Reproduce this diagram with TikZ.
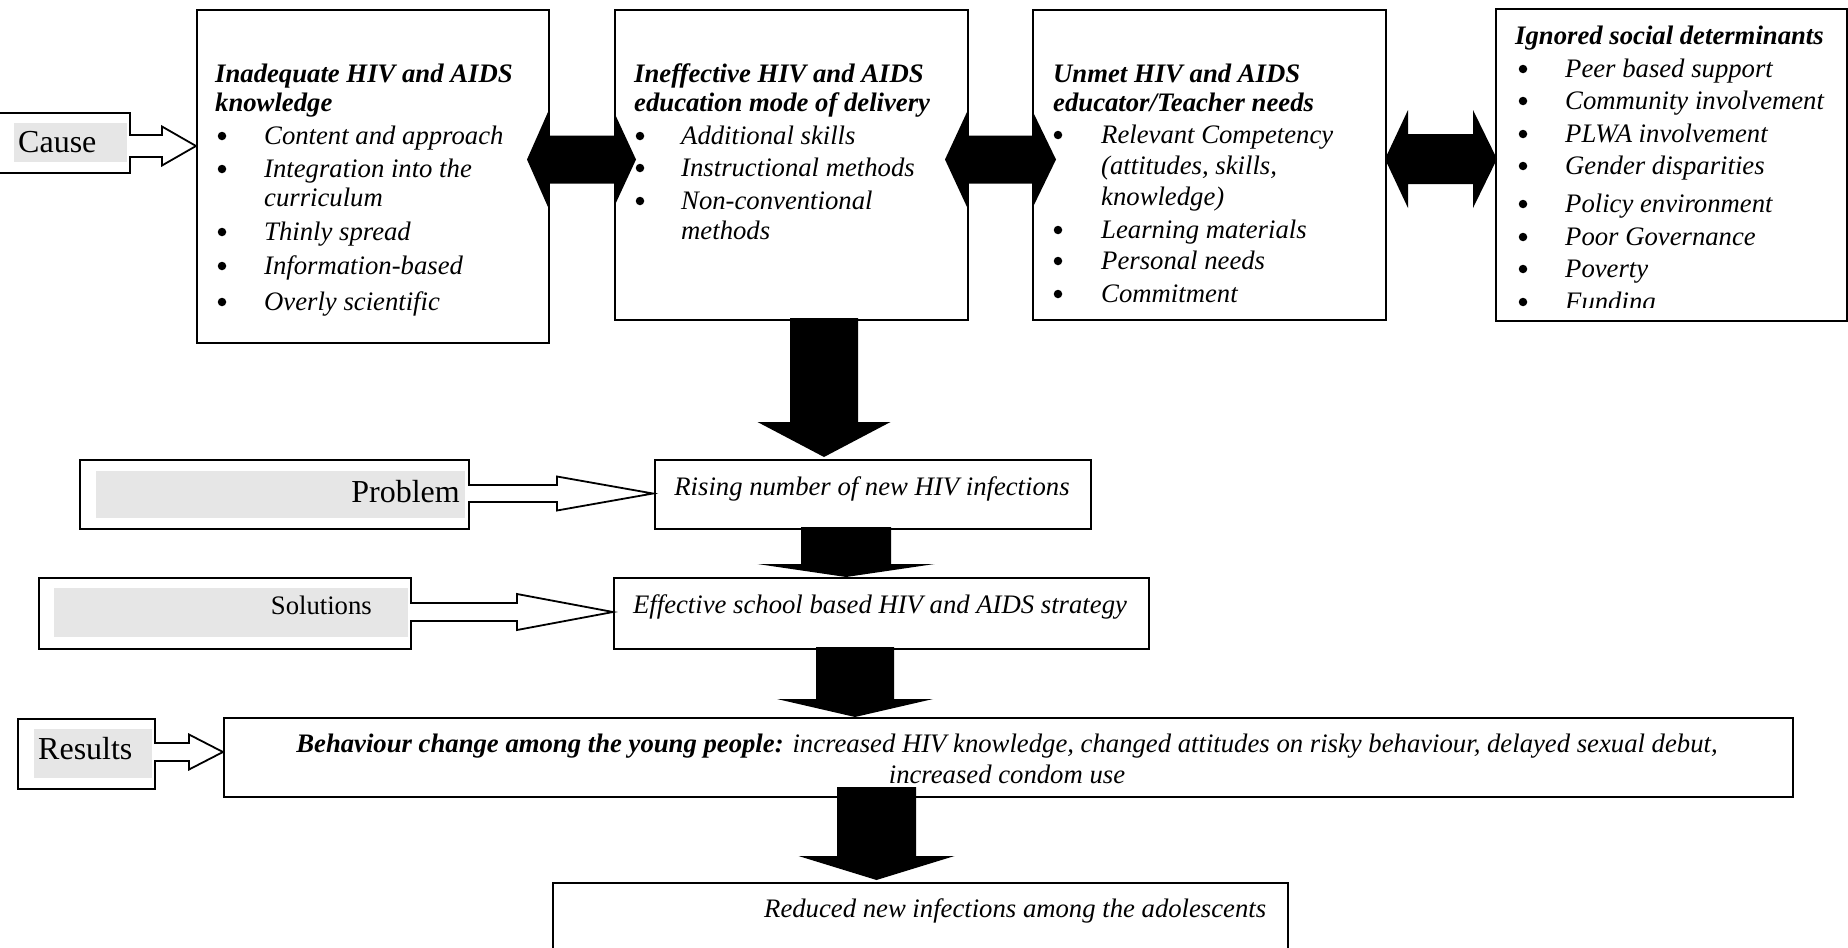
\documentclass[tikz,border=0pt]{standalone}
\usepackage{fontspec}
\setmainfont{Liberation Serif}
\newcommand\bodyfs{\fontsize{26.7}{30}\selectfont}
\newcommand\labfs{\fontsize{32}{36}\selectfont}
\definecolor{labgray}{RGB}{230,230,230}
% black block arrow pointing down: cx, ytop, shaft half, yhead, head half, ytip
\newcommand\blkdown[6]{\fill[black] ({#1-#3},#2) -- ({#1+#3},#2) -- ({#1+#3},#4) -- ({#1+#5},#4) -- (#1,#6) -- ({#1-#5},#4) -- ({#1-#3},#4) -- cycle;}
% black double block arrow: left tip, left base, right base, right tip, cy, shaft half, head half
\newcommand\blkdouble[7]{\fill[black] (#1,#5) -- (#2,{#5-#7}) -- (#2,{#5-#6}) -- (#3,{#5-#6}) -- (#3,{#5-#7}) -- (#4,#5) -- (#3,{#5+#7}) -- (#3,{#5+#6}) -- (#2,{#5+#6}) -- (#2,{#5+#7}) -- cycle;}
% hollow block arrow to the right: x0, xhead, xtip, cy, shaft half, head half
\newcommand\holright[6]{\filldraw[hol] (#1,{#4-#5}) -- (#2,{#4-#5}) -- (#2,{#4-#6}) -- (#3,#4) -- (#2,{#4+#6}) -- (#2,{#4+#5}) -- (#1,{#4+#5});}
% bullet dot: name, x, baseline
\newcommand\bu[3]{\node[bul] (#1) at (#2,{#3-8}) {};}
\tikzset{
  box/.style={draw, line width=1.8pt, fill=white, inner sep=0pt, anchor=north west},
  hol/.style={draw=black, fill=white, line width=1.8pt, line join=miter},
  it/.style={inner sep=0pt, anchor=base west, font=\bodyfs\itshape},
  bi/.style={inner sep=0pt, anchor=base west, font=\bodyfs\bfseries\itshape},
  bul/.style={circle, fill=black, inner sep=0pt, minimum size=8.5pt},
  ctr/.style={inner sep=0pt, anchor=base, font=\bodyfs\itshape},
  lab/.style={inner sep=0pt, font=\labfs},
}
\begin{document}
\begin{tikzpicture}[x=1pt, y=-1pt]
\useasboundingbox (0,0) rectangle (1848,948);
\begin{scope}
\clip (0,0) rectangle (1848,948);
% boxes
\node[box, minimum width=134, minimum height=60] (cause) at (-5,112) {};
\node[box, minimum width=352, minimum height=333] (b1) at (196,9) {};
\node[box, minimum width=353, minimum height=310] (b2) at (614,9) {};
\node[box, minimum width=353, minimum height=310] (b3) at (1032,9) {};
\node[box, minimum width=351, minimum height=312] (b4) at (1495,8) {};
\node[box, minimum width=389, minimum height=69] (prob) at (79,459) {};
\node[box, minimum width=436, minimum height=69] (rise) at (654,459) {};
\node[box, minimum width=372, minimum height=71] (sol) at (38,577) {};
\node[box, minimum width=535, minimum height=71] (eff) at (613,577) {};
\node[box, minimum width=137, minimum height=70] (res) at (17,718) {};
\node[box, minimum width=1569, minimum height=79] (beh) at (223,717) {};
\node[box, minimum width=735, minimum height=90] (red) at (552,882) {};
% grey label backgrounds
\fill[labgray] (14,123) rectangle (127,162);
\fill[labgray] (96,471) rectangle (465,518);
\fill[labgray] (54,588) rectangle (408,637);
\fill[labgray] (34,729) rectangle (152,778);
% hollow arrows
\holright{129}{162}{196}{146}{11}{19.5}
\holright{468}{557}{653}{493.5}{8.5}{17}
\holright{410}{517}{613}{612}{9}{18}
\holright{154}{189}{223}{752}{9}{17.5}
% black double arrows
\blkdouble{527}{548}{614}{636}{159.5}{24}{47.5}
\blkdouble{945}{967}{1033}{1056}{159.5}{24}{47.5}
\blkdouble{1385}{1408}{1473}{1497}{159}{25}{49}
% black down arrows
\blkdown{824}{318}{34}{422}{66.5}{457}
\blkdown{846}{527}{45}{564}{88.5}{577}
\blkdown{855}{647}{39}{699}{78}{717}
\blkdown{876.5}{787}{39.5}{856}{78}{880}
% labels
\node[lab, anchor=base west] (tcause) at (18,152) {Cause};
\node[lab, anchor=base east] (tprob) at (460,502) {Problem};
\node[inner sep=0pt, font=\bodyfs, anchor=base east] (tsol) at (372,614) {Solutions};
\node[lab, anchor=base west] (tres) at (38,759) {Results};
% box 1
\node[bi] (b1t1) at (215,82) {Inadequate HIV and AIDS};
\node[bi] (b1t2) at (215,111) {knowledge};
\bu{b1u1}{222}{144}
\node[it] (b1i1) at (264,144) {Content and approach};
\bu{b1u2}{222}{177}
\node[it] (b1i2) at (264,177) {Integration into the};
\node[it] (b1i3) at (264,206) {curriculum};
\bu{b1u4}{222}{240}
\node[it] (b1i4) at (264,240) {Thinly spread};
\bu{b1u5}{222}{274}
\node[it] (b1i5) at (264,274) {Information-based};
\bu{b1u6}{222}{310}
\node[it] (b1i6) at (264,310) {Overly scientific};
% box 2
\node[bi] (b2t1) at (634,82) {Ineffective HIV and AIDS};
\node[bi] (b2t2) at (634,111) {education mode of delivery};
\bu{b2u1}{640}{144}
\node[it] (b2i1) at (681,144) {Additional skills};
\bu{b2u2}{640}{176}
\node[it] (b2i2) at (681,176) {Instructional methods};
\bu{b2u3}{640}{209}
\node[it] (b2i3) at (681,209) {Non-conventional};
\node[it] (b2i4) at (681,239) {methods};
% box 3
\node[bi] (b3t1) at (1053,82) {Unmet HIV and AIDS};
\node[bi] (b3t2) at (1053,111) {educator/Teacher needs};
\bu{b3u1}{1058}{143}
\node[it] (b3i1) at (1101,143) {Relevant Competency};
\node[it] (b3i2) at (1101,174) {(attitudes, skills,};
\node[it] (b3i3) at (1101,205) {knowledge)};
\bu{b3u4}{1058}{238}
\node[it] (b3i4) at (1101,238) {Learning materials};
\bu{b3u5}{1058}{269}
\node[it] (b3i5) at (1101,269) {Personal needs};
\bu{b3u6}{1058}{302}
\node[it] (b3i6) at (1101,302) {Commitment};
% box 4
\begin{scope}
\clip (1497,10) rectangle (1845,307);
\node[bi] (b4t1) at (1515,44) {Ignored social determinants};
\bu{b4u1}{1523}{77}
\node[it] (b4i1) at (1565,77) {Peer based support};
\bu{b4u2}{1523}{109}
\node[it] (b4i2) at (1565,109) {Community involvement};
\bu{b4u3}{1523}{142}
\node[it] (b4i3) at (1565,142) {PLWA involvement};
\bu{b4u4}{1523}{174}
\node[it] (b4i4) at (1565,174) {Gender disparities};
\bu{b4u5}{1523}{212}
\node[it] (b4i5) at (1565,212) {Policy environment};
\bu{b4u6}{1523}{245}
\node[it] (b4i6) at (1565,245) {Poor Governance};
\bu{b4u7}{1523}{277}
\node[it] (b4i7) at (1565,277) {Poverty};
\bu{b4u8}{1523}{310}
\node[it] (b4i8) at (1565,310) {Funding};
\end{scope}
% centre column texts
\node[ctr] (trise) at (872,495) {Rising number of new HIV infections};
\node[ctr] (teff) at (880,613) {Effective school based HIV and AIDS strategy};
\node[ctr] (tbeh1) at (1007,752) {{\bfseries Behaviour change among the young people:} increased HIV knowledge, changed attitudes on risky behaviour, delayed sexual debut,};
\node[ctr] (tbeh2) at (1007,783) {increased condom use};
\node[it] (tred) at (764,917) {Reduced new infections among the adolescents};
\end{scope}
\end{tikzpicture}
\end{document}
